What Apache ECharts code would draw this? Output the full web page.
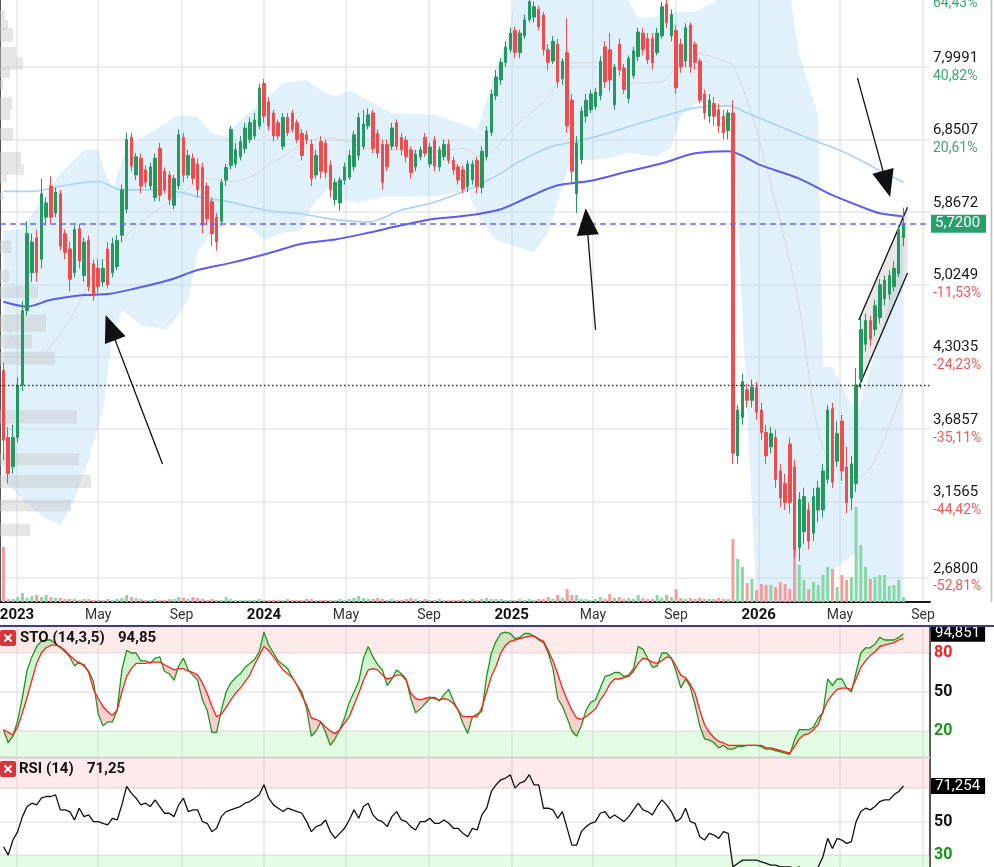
<!DOCTYPE html>
<html><head><meta charset="utf-8">
<script src="https://cdn.jsdelivr.net/npm/echarts@6/dist/echarts.min.js"></script>
<style>html,body{margin:0;padding:0;background:#fff}#c{width:994px;height:867px}</style>
</head><body><div id="c"></div>
<script>
// ---------- DATA ----------
// weekly candles starting Monday 2022-12-12 : [open, close, low, high]
const firstWeek = [2022, 12, 12];
const candles = [
[4.18,3.60,3.45,4.25],[3.62,3.35,3.28,3.70],[3.40,3.62,3.35,3.72],[3.62,4.05,3.58,4.12],[4.05,4.75,4.00,4.85],
[4.75,5.60,4.70,5.75],[5.15,5.50,5.05,5.60],[5.55,5.15,5.05,5.65],[5.30,6.10,5.20,6.30],[5.80,5.98,5.70,6.05],
[6.20,5.80,5.72,6.33],[5.85,6.12,5.80,6.18],[6.10,5.45,5.40,6.15],[5.60,5.38,5.30,5.65],[5.42,5.08,4.95,5.50],
[5.15,5.65,5.10,5.70],[5.66,5.28,5.20,5.72],[5.12,5.50,5.05,5.55],[5.52,5.00,4.95,5.58],[5.25,4.90,4.85,5.30],
[5.20,5.00,4.93,5.30],[5.05,5.20,5.00,5.30],[5.42,5.02,4.98,5.50],[5.15,5.48,5.10,5.55],[5.22,5.52,5.18,5.58],
[5.58,6.15,5.50,6.22],[5.90,6.85,5.85,6.95],[6.88,6.47,6.40,6.95],[6.35,6.60,6.28,6.65],[6.58,6.20,6.10,6.65],
[6.42,6.25,6.18,6.48],[6.20,6.46,6.15,6.52],[6.05,6.58,6.00,6.65],[6.72,6.08,6.00,6.80],[6.40,6.15,6.10,6.45],
[6.35,6.02,5.95,6.40],[5.95,6.30,5.90,6.35],[6.20,6.92,6.15,7.00],[6.88,6.35,6.25,6.95],[6.35,6.62,6.30,6.70],
[6.58,6.30,6.22,6.65],[6.50,6.15,6.05,6.58],[6.45,5.70,5.60,6.52],[6.20,5.78,5.70,6.25],[6.00,5.60,5.45,6.05],
[5.80,5.50,5.40,5.85],[5.75,6.25,5.70,6.30],[6.28,6.45,6.20,6.50],[6.48,7.00,6.42,7.05],[6.50,6.70,6.45,6.80],
[6.60,6.82,6.55,6.90],[6.72,7.02,6.65,7.10],[6.85,7.10,6.80,7.18],[6.90,7.14,6.85,7.25],[7.05,7.65,7.00,7.72],
[7.72,7.20,7.10,7.80],[7.42,7.05,6.98,7.50],[7.25,6.90,6.82,7.30],[7.10,6.90,6.85,7.15],[6.75,7.18,6.70,7.25],
[7.18,6.95,6.90,7.25],[7.25,7.00,6.95,7.30],[7.10,6.85,6.80,7.15],[6.94,6.62,6.55,7.00],[6.92,6.84,6.78,6.98],
[6.78,6.30,6.20,6.85],[6.35,6.62,6.30,6.70],[6.82,6.40,6.30,6.90],[6.80,6.38,6.30,6.85],[6.48,6.15,6.05,6.55],
[6.02,6.25,5.95,6.30],[5.98,6.28,5.88,6.32],[6.28,6.46,6.22,6.52],[6.32,6.62,6.28,6.70],[6.46,6.92,6.40,6.98],
[6.62,7.18,6.55,7.25],[6.75,7.08,6.70,7.30],[7.05,7.22,7.00,7.32],[7.25,6.72,6.65,7.30],[6.94,6.65,6.58,7.00],
[6.78,6.25,6.15,6.85],[6.78,6.46,6.40,6.85],[6.75,7.02,6.70,7.10],[7.10,6.75,6.70,7.15],[6.88,6.70,6.62,6.95],
[6.84,6.60,6.52,6.90],[6.70,6.38,6.30,6.75],[6.46,6.64,6.40,6.70],[6.60,6.70,6.55,6.75],[6.88,6.65,6.60,6.95],
[6.50,6.74,6.45,6.80],[6.84,6.47,6.40,6.90],[6.46,6.70,6.40,6.75],[6.60,6.78,6.55,6.85],[6.78,6.55,6.50,6.85],
[6.55,6.42,6.35,6.60],[6.46,6.28,6.22,6.50],[6.42,6.16,6.10,6.48],[6.19,6.50,6.12,6.55],[6.28,6.50,6.22,6.55],
[6.55,6.19,6.10,6.60],[6.18,6.68,6.10,6.75],[6.60,6.98,6.55,7.05],[6.95,7.55,6.90,7.62],[7.52,7.83,7.45,7.95],
[7.78,8.08,7.70,8.15],[8.08,8.35,8.00,8.45],[8.30,8.60,8.25,8.70],[8.65,8.25,8.15,8.72],[8.25,8.60,8.15,8.66],
[8.55,8.85,8.50,8.95],[8.85,9.20,8.80,9.40],[8.90,9.10,8.80,9.20],[9.05,8.72,8.65,9.12],[8.94,8.30,8.20,9.00],
[8.30,8.08,7.95,8.40],[8.10,8.45,8.05,8.55],[8.40,7.75,7.65,8.50],[7.80,8.10,7.70,8.15],[8.25,7.05,6.95,8.88],
[7.45,6.40,6.25,7.55],[6.10,6.80,5.85,6.90],[6.56,7.28,6.50,7.35],[7.20,7.45,7.10,7.55],[7.30,7.55,7.25,7.62],
[7.35,7.58,7.30,7.65],[7.52,8.10,7.45,8.18],[8.35,7.75,7.65,8.45],[8.30,7.78,7.60,8.60],[7.38,8.00,7.30,8.05],
[8.40,7.95,7.85,8.50],[7.98,7.62,7.55,8.05],[7.48,8.15,7.40,8.20],[7.85,8.28,7.80,8.35],[8.18,8.62,8.10,8.70],
[8.60,8.30,8.20,8.70],[8.50,8.12,8.05,8.60],[8.50,8.07,7.95,8.60],[8.25,8.60,8.20,8.70],[8.55,9.10,8.50,9.20],
[9.15,8.80,8.70,9.40],[8.55,8.95,8.45,9.05],[8.65,7.65,7.55,8.75],[8.40,8.00,7.90,8.50],[8.10,8.70,8.00,8.78],
[8.75,8.00,7.90,8.80],[8.40,8.08,7.95,8.45],[8.10,7.45,7.40,8.15],[7.55,7.25,7.15,7.62],[7.20,7.45,7.10,7.55],
[7.40,7.20,7.05,7.50],[7.30,7.05,6.95,7.40],[7.20,6.95,6.85,7.30],[6.98,7.25,6.85,7.30],[7.25,3.50,3.42,7.45],
[3.48,3.84,3.42,3.88],[3.78,4.08,3.72,4.15],[4.01,3.92,3.86,4.06],[3.92,4.03,3.86,4.10],[4.03,3.82,3.76,4.08],
[3.84,3.66,3.60,3.90],[3.66,3.48,3.42,3.72],[3.55,3.65,3.50,3.70],[3.62,3.31,3.25,3.68],[3.37,3.18,3.12,3.42],
[3.28,3.15,3.10,3.35],[3.57,3.15,3.08,3.62],[3.40,2.85,2.80,3.45],[2.86,3.17,2.78,3.22],[2.96,3.19,2.88,3.25],
[3.10,2.90,2.85,3.15],[2.95,3.19,2.90,3.25],[3.10,3.25,3.02,3.30],[3.10,3.37,3.05,3.42],[3.31,3.84,3.28,3.88],
[3.85,3.29,3.25,3.90],[3.44,3.65,3.40,3.75],[3.75,3.37,3.30,3.80],[3.40,3.15,3.08,3.55],[3.18,3.42,3.10,3.48],
[3.28,4.05,3.22,4.20],[4.10,4.56,4.02,4.68],[4.42,4.65,4.35,4.72],[4.65,4.47,4.40,4.70],[4.56,4.80,4.50,4.86],
[4.68,5.02,4.62,5.08],[4.87,5.07,4.80,5.12],[4.92,5.12,4.86,5.18],[5.00,5.20,4.95,5.28],[5.14,5.65,5.10,5.70],
[5.55,5.72,5.45,5.92]
];
const volumes = [
55,3,3,5,9,4,6,7,5,7, 5,4,4,3,3,3,2,3,3,2, 2,2,3,2,3,4,7,5,4,3, 2,2,3,2,2,3,3,5,4,3,
5,4,3,2,3,2,2,5,3,2, 2,2,2,2,3,2,2,2,2,2, 3,2,2,2,3,3,2,2,2,2, 2,3,2,3,4,6,4,3,3,4,
3,2,3,2,2,3,4,3,2,3, 2,2,3,2,2,2,2,3,2,3, 2,3,4,3,3,3,2,2,2,3, 2,3,2,3,3,5,3,7,4,13,
7,7,3,3,2,3,5,3,8,4, 5,3,4,3,7,4,3,3,7,4, 7,5,13,4,3,4,3,4,3,3, 3,4,3,3,
63,43,35,19,23,12,18,17,17,15, 20,18,13,68,37,22,13,20,17,27, 35,33,15,27,22,25,95,57,35,23, 25,27,27,16,17,22,5
];
// Bollinger bands / moving averages : [weekIndex, value]
const bbUpper = [[0,5.63],[4,5.66],[8,6.02],[12,6.37],[17,6.70],[20,6.70],[21,6.47],[23,6.15],[26,6.74],[33,7.04],[37,7.22],[41,7.19],[44,6.94],[47,6.89],[50,7.14],[55,7.45],[59,7.73],[64,7.78],[67,7.61],[70,7.50],[73,7.61],[77,7.45],[82,7.25],[91,7.22],[96,7.10],[100,6.99],[102,7.45],[104,8.00],[105,8.20],[107,8.70],[108,9.40],[112,10.0],[120,10.2],[126,9.9],[131,9.4],[134,8.88],[138,8.91],[142,9.00],[146,9.00],[150,9.19],[153,9.5],[154,10.3],[160,10.5],[165,10.0],[168,8.21],[172,7.22],[173,4.21],[175,4.21],[180,3.81],[183,4.18],[186,4.66],[188,5.07],[190,5.71]];
const bbLower = [[0,3.31],[4,3.17],[8,3.06],[12,3.00],[15,3.17],[18,3.45],[21,3.84],[23,4.50],[25,4.76],[29,4.60],[34,4.56],[36,4.64],[39,4.86],[41,5.38],[44,5.61],[48,5.74],[52,5.67],[55,5.52],[59,5.61],[63,5.64],[65,5.93],[70,6.28],[72,6.02],[75,5.98],[80,6.06],[91,6.06],[98,6.15],[100,5.83],[104,5.52],[112,5.38],[115,5.61],[118,6.19],[120,6.60],[124,6.55],[129,6.60],[132,6.66],[138,6.60],[141,6.74],[143,7.19],[146,7.40],[150,7.45],[153,7.34],[154,7.05],[155,5.77],[156,4.70],[157,3.84],[158,3.13],[159,2.56],[160,2.2],[173,2.2],[174,2.70],[180,2.83],[181,2.2],[190,2.0]];
const bbMiddle = [[0,4.66],[2,4.48],[5,4.30],[8,4.31],[11,4.46],[14,4.66],[17,4.93],[20,5.22],[24,5.44],[27,5.64],[31,5.83],[36,6.03],[39,6.16],[43,6.30],[48,6.26],[53,6.35],[56,6.49],[60,6.64],[63,6.79],[68,6.88],[73,6.81],[77,6.72],[84,6.70],[91,6.67],[97,6.72],[101,6.60],[108,7.04],[115,7.50],[120,8.07],[126,8.07],[132,7.73],[139,7.75],[142,8.00],[146,8.24],[153,8.08],[154,8.03],[158,7.23],[164,5.74],[168,4.80],[173,3.54],[180,3.31],[184,3.45],[190,4.03]];
const maLong = [[0,6.13],[6,6.13],[13,6.21],[20,6.26],[25,6.15],[32,6.15],[37,6.12],[41,6.06],[48,5.99],[56,5.88],[63,5.84],[70,5.77],[77,5.74],[84,5.89],[91,5.99],[98,6.15],[105,6.37],[108,6.50],[115,6.73],[122,6.84],[126,6.91],[132,7.04],[139,7.19],[146,7.33],[153,7.36],[157,7.25],[164,7.04],[171,6.84],[178,6.65],[185,6.41],[190,6.25]];
const maMid = [[0,4.84],[5,4.79],[10,4.86],[17,4.91],[22,4.92],[27,4.97],[35,5.07],[41,5.18],[48,5.26],[56,5.37],[63,5.48],[70,5.53],[77,5.61],[84,5.70],[91,5.78],[98,5.82],[105,5.90],[111,6.06],[117,6.21],[124,6.27],[132,6.40],[139,6.51],[146,6.65],[153,6.68],[160,6.48],[168,6.30],[175,6.08],[182,5.91],[185,5.85],[190,5.81]];
// volume at price : [low, high, volume]
const volProfile = [[8.845,9.036,5],[8.658,8.845,8],[8.44,8.70,13],[8.17,8.35,16],[7.95,8.17,23],[7.81,7.98,10],[7.62,7.78,3],[7.30,7.50,12],[7.14,7.30,10],[6.84,7.02,13],[6.49,6.67,21],[6.35,6.49,24],[6.25,6.35,7],[6.02,6.11,3],[5.37,5.52,11],[5.04,5.18,9],[4.88,5.00,38],[4.54,4.71,46],[4.38,4.51,32],[4.23,4.35,55],[3.73,3.84,77],[3.41,3.50,79],[3.25,3.34,91],[3.09,3.17,71],[2.93,3.01,30]];
// stochastic (14,3,5) %K / %D and RSI(14), weekly
const stoK = [21,11,16,28,46,67,77,85,89,90, 90,87,84,81,77,70,73,70,66,58, 33,24,27,27,36,67,82,80,80,74, 74,72,76,77,66,64,59,70,76,67,
63,59,44,36,19,19,36,50,57,61, 64,69,72,75,81,96,86,80,74,71, 68,61,55,50,37,16,20,27,19,9, 14,21,30,42,50,58,76,85,77,71,
67,55,60,67,64,60,45,34,37,41, 45,46,43,48,52,43,36,26,18,31, 33,35,62,80,89,95,96,95,91,92, 95,95,93,90,88,80,68,45,39,30,
20,16,24,36,42,44,53,62,63,65, 65,62,63,68,85,83,76,69,70,80, 80,76,66,53,60,54,40,24,14,13, 11,7,9,6,6,8,8,9,9,9,
8,6,6,5,4,3,2,13,21,21, 21,23,30,34,60,55,60,60,53,50, 65,80,84,84,87,92,90,90,90,92,94.851];
const stoD = [21,19,17,23,34,46,59,72,80,84, 86,86,85,82,78,75,72,71,65,52, 45,39,35,32,36,50,62,68,72,72, 72,73,73,73,71,69,67,68,68,66,
65,63,57,49,39,31,33,38,44,49, 53,58,63,71,78,85,82,77,72,67, 64,61,55,47,40,30,29,27,23,20, 18,21,26,31,40,49,59,67,68,67,
63,60,61,63,63,59,49,45,44,45, 46,45,44,45,44,41,36,31,31,31, 31,38,50,62,70,80,86,89,90,91, 92,93,93,91,89,82,74,64,53,44,
36,30,29,31,34,37,44,49,56,60, 60,61,62,66,72,76,75,73,72,74, 77,76,70,63,61,56,49,36,25,19, 15,12,11,9,9,9,9,9,9,9,
9,7,7,6,5,4,3,8,14,17, 18,21,25,35,43,48,52,53,53,52, 60,69,74,78,81,85,86,87,88,90,91.3];
const rsi = [35,30,39,44,53,59,61,60,64,65, 65,66,57,57,56,51,58,53,54,50, 50,49,48,52,51,60,71,67,64,60, 61,59,63,59,55,55,53,60,64,56,
57,57,50,49,44,46,53,56,57,58, 59,61,62,64,66,72,64,60,58,56, 58,57,56,55,50,44,47,48,51,44, 40,43,46,51,57,52,59,61,54,51,
50,47,53,56,51,50,47,45,50,50, 52,49,49,51,49,46,46,43,41,46, 45,54,58,68,72,75,76,78,70,73, 74,78,72,72,58,58,57,52,56,46,
36,36,44,47,49,50,55,56,52,54, 52,50,53,57,61,57,56,54,59,63, 60,56,50,52,58,50,49,41,39,43, 42,40,44,43,23,25,27,27,27,27,
26,25,24,24,23,23,23,22,23,19, 19,20,23,29,40,34,40,39,37,38, 50,56,58,57,59,62,63,63,66,68,71.254];
// axis ticks / labels (the percentage of 5,8672 is hidden behind the price tag in the original)
const timeTicks = ['2023-01-01','2023-05-01','2023-09-01','2024-01-01','2024-05-01','2024-09-01','2025-01-01','2025-05-01','2025-09-01','2026-01-01','2026-05-01','2026-09-01'];
const monthNames = ['Jan','Feb','Mar','Apr','May','Jun','Jul','Aug','Sep','Oct','Nov','Dec'];
const priceTicks = [2.68, 3.1565, 3.6857, 4.3035, 5.0249, 5.8672, 6.8507, 7.9991, 9.34];
const pctLabels = ['-52,81%','-44,42%','-35,11%','-24,23%','-11,53%','','20,61%','40,82%','64,43%'];
const stoTicks = [20, 50, 80];
const rsiTicks = [30, 50, 70];
const supportLevel = 4.05;
// drawn annotations: [tailDate, tailPrice, headDate, headPrice]
const arrows = [['2023-08-04',3.42,'2023-05-19',4.58],['2025-05-05',4.556,'2025-04-22',5.744],['2026-05-27',7.815,'2026-07-09',6.228]];
// trend channel: [date, upper, lower]
const channel = [['2026-05-29',4.655,4.033],['2026-08-09',5.925,5.147]];
const priceRange = [2.5458, 9.3516];
const timeRange = ['2022-12-06 21','2026-09-11 05'];

// ---------- BUILD ----------
function toTime(s){ const [d,h] = s.split(' '); const [y,m,dd] = d.split('-').map(Number); return new Date(y, m-1, dd, h?Number(h):0).getTime(); }
const dates = candles.map((_, i) => new Date(firstWeek[0], firstWeek[1]-1, firstWeek[2] + 7*i).getTime());
const tickVals = timeTicks.map(toTime);
const xMin = toTime(timeRange[0]), xMax = toTime(timeRange[1]);
const comma = (v, d) => v.toFixed(d).replace('.', ',');
const sparse = arr => arr.map(p => [dates[p[0]], p[1]]);
const FONT = 'Roboto, Arial, sans-serif';
const GREEN = '#23995f', RED = '#f34a4c';
const CLEAR = 'rgba(0,0,0,0)';

function fmtX(v){ const d = new Date(v); return d.getMonth() === 0 ? '{y|' + d.getFullYear() + '}' : '{m|' + monthNames[d.getMonth()] + '}'; }
function fmtPrice(v){
  let k = 0, best = 1e9;
  priceTicks.forEach((t, i) => { const d = Math.abs(t - v); if (d < best) { best = d; k = i; } });
  const p = pctLabels[k];
  return '{v|' + comma(priceTicks[k], 4) + '}\n{' + (p[0] === '-' ? 'pd' : 'pu') + '|' + (p || ' ') + '}';
}
const splitStyle = {show:true, lineStyle:{color:'#e7e7e7', width:1.5}};
function mkX(gi, labels){
  return {type:'value', gridIndex:gi, min:xMin, max:xMax, show: gi !== 1, scale:true,
    axisLine:{show: gi === 0, onZero:false, lineStyle:{color:'#1a1a1a', width:2}},
    axisTick:{show:false, customValues: tickVals},
    axisLabel:{show: labels, customValues: tickVals, margin:6, formatter: fmtX, hideOverlap:false,
      rich:{y:{fontWeight:'bold', fontSize:15, color:'#111', fontFamily:FONT}, m:{fontSize:14, color:'#333', fontFamily:FONT}}},
    splitLine: splitStyle};
}
const candleData = candles.map((c, i) => [dates[i], c[0], c[1], c[2], c[3]]);
const volData = volumes.map((v, i) => ({value:[dates[i], v], itemStyle:{color: candles[i][1] >= candles[i][0] ? '#84d9a6' : '#f79b9b'}}));
const bandData = bbUpper.map(p => [dates[p[0]], p[1], 0]).concat(bbLower.map(p => [dates[p[0]], p[1], 1]));
const lastClose = candles[candles.length-1][1];
const lastK = stoK[stoK.length-1], lastRsi = rsi[rsi.length-1];
const gridBase = {left:0, right:64, outerBoundsMode:'none', containLabel:false};

const option = {
  animation:false,
  textStyle:{fontFamily:FONT},
  grid:[
    Object.assign({top:-6, height:608}, gridBase),
    Object.assign({top:402, height:200}, gridBase),
    Object.assign({top:627, height:130}, gridBase),
    Object.assign({top:758, height:110.5}, gridBase)
  ],
  xAxis:[mkX(0,true), mkX(1,false), mkX(2,false), mkX(3,false), {type:'value', gridIndex:0, min:0, max:930, show:false}],
  yAxis:[
    {type:'log', gridIndex:0, position:'right', min:priceRange[0], max:priceRange[1], logBase:10,
      axisLine:{show:true, lineStyle:{color:'#1a1a1a', width:1.5}},
      axisTick:{show:false, customValues: priceTicks},
      axisLabel:{customValues: priceTicks, margin:3, formatter: fmtPrice, hideOverlap:false,
        rich:{v:{fontSize:15, color:'#1a1a1a', lineHeight:18, fontFamily:FONT},
              pu:{fontSize:14, color:'#3aaa6e', lineHeight:18, fontFamily:FONT},
              pd:{fontSize:14, color:'#f25757', lineHeight:18, fontFamily:FONT}}},
      splitLine: splitStyle},
    {type:'value', gridIndex:1, min:0, max:200, show:false},
    {type:'value', gridIndex:2, min:0, max:100, position:'right',
      axisLine:{show:true, lineStyle:{color:'#1a1a1a', width:1.5}},
      axisTick:{show:false, customValues: stoTicks},
      axisLabel:{customValues: stoTicks, margin:4, formatter: v => v === 80 ? '{r|80}' : v === 20 ? '{g|20}' : '{b|' + v + '}',
        rich:{r:{color:'#ff1a1a', fontWeight:'bold', fontSize:16}, g:{color:'#119911', fontWeight:'bold', fontSize:16}, b:{color:'#111', fontWeight:'bold', fontSize:16}}},
      splitLine: splitStyle},
    {type:'value', gridIndex:3, min:22, max:88, position:'right',
      axisLine:{show:true, lineStyle:{color:'#1a1a1a', width:1.5}},
      axisTick:{show:false, customValues: rsiTicks},
      axisLabel:{customValues: rsiTicks, margin:4, formatter: v => v === 30 ? '{g|30}' : v === 50 ? '{b|50}' : '',
        rich:{g:{color:'#119911', fontWeight:'bold', fontSize:16}, b:{color:'#111', fontWeight:'bold', fontSize:16}}},
      splitLine: splitStyle}
  ],
  series:[
    {type:'custom', name:'BB', xAxisIndex:0, yAxisIndex:0, z:1, clip:true, silent:true,
      data: bandData, encode:{x:0, y:1},
      renderItem:function(params, api){
        if (params.dataIndexInside !== 0) return null;
        const n = params.dataInsideLength, top = [], bot = [];
        for (let j = 0; j < n; j++) {
          const pt = api.coord([api.value(0, j), api.value(1, j)]);
          if (api.value(2, j) === 0) top.push(pt); else bot.push(pt);
        }
        return {type:'polygon', shape:{points: top.concat(bot.reverse())}, style:{fill:'rgba(160,210,245,0.32)'}};
      }},
    {type:'custom', name:'VolProfile', xAxisIndex:4, yAxisIndex:0, z:1, clip:true, silent:true,
      data: volProfile.map(r => [r[2], r[0], r[1]]), encode:{x:0, y:[1,2]},
      renderItem:function(params, api){
        const a = api.coord([0, api.value(2)]), b = api.coord([api.value(0), api.value(1)]);
        return {type:'rect', shape:{x:a[0], y:a[1], width:b[0]-a[0], height:b[1]-a[1]}, style:{fill:'rgba(200,200,200,0.45)'}};
      }},
    {type:'line', name:'BB mid', xAxisIndex:0, yAxisIndex:0, z:2, data: sparse(bbMiddle), showSymbol:false, smooth:0.3, silent:true,
      lineStyle:{color:'#d6d6d6', width:1}},
    {type:'line', name:'MA long', xAxisIndex:0, yAxisIndex:0, z:2, data: sparse(maLong), showSymbol:false, smooth:0.3, silent:true,
      lineStyle:{color:'#a6d3f6', width:1.6}},
    {type:'line', name:'MA mid', xAxisIndex:0, yAxisIndex:0, z:2, data: sparse(maMid), showSymbol:false, smooth:0.3, silent:true,
      lineStyle:{color:'#5c5cf0', width:2}},
    {type:'bar', name:'Volume', xAxisIndex:1, yAxisIndex:1, z:2, data: volData, barWidth:3, silent:true},
    {type:'custom', name:'Channel', xAxisIndex:0, yAxisIndex:0, z:2, clip:true, silent:true,
      data: channel.map(r => [toTime(r[0]), r[1], r[2]]), encode:{x:0, y:[1,2]},
      renderItem:function(params, api){
        if (params.dataIndexInside !== 0) return null;
        const u0 = api.coord([api.value(0,0), api.value(1,0)]), u1 = api.coord([api.value(0,1), api.value(1,1)]);
        const l0 = api.coord([api.value(0,0), api.value(2,0)]), l1 = api.coord([api.value(0,1), api.value(2,1)]);
        return {type:'group', children:[
          {type:'polygon', shape:{points:[u0,u1,l1,l0]}, style:{fill:'rgba(175,175,175,0.30)'}},
          {type:'line', shape:{x1:u0[0], y1:u0[1], x2:u1[0], y2:u1[1]}, style:{stroke:'#111', lineWidth:1.3}},
          {type:'line', shape:{x1:l0[0], y1:l0[1], x2:l1[0], y2:l1[1]}, style:{stroke:'#111', lineWidth:1.3}}
        ]};
      }},
    {type:'candlestick', name:'Price', xAxisIndex:0, yAxisIndex:0, z:3, data: candleData, encode:{x:0, y:[1,2,3,4]},
      barWidth:3, silent:true,
      itemStyle:{color:GREEN, color0:RED, borderColor:GREEN, borderColor0:RED, borderWidth:1},
      markLine:{silent:true, symbol:['none','none'], animation:false, label:{show:false},
        lineStyle:{type:'solid', color:'#111', width:1.3},
        data:[
          {yAxis:lastClose, lineStyle:{color:'#6a6af2', type:[6,4], width:1.6},
            label:{show:true, position:'end', distance:1, formatter: comma(lastClose,4), backgroundColor:'#27a06b', color:'#fff',
              fontSize:15, padding:[2,6,1,4], fontFamily:FONT}},
          {yAxis:supportLevel, lineStyle:{color:'#333', type:[1.5,2.5], width:1.3}}
        ].concat(arrows.map(a => [
          {coord:[toTime(a[0]), a[1]], symbol:'none'},
          {coord:[toTime(a[2]), a[3]], symbol:'triangle', symbolSize:[22,27]}
        ]))}},
    // STO
    {type:'custom', name:'STO fill', xAxisIndex:2, yAxisIndex:2, z:1, clip:true, silent:true,
      data: stoK.map((k, i) => [dates[i], k, stoD[i]]), encode:{x:0, y:[1,2]},
      renderItem:function(params, api){
        const j = params.dataIndexInside, n = params.dataInsideLength;
        if (j >= n - 1) return null;
        const t0 = api.value(0,j), k0 = api.value(1,j), d0 = api.value(2,j);
        const t1 = api.value(0,j+1), k1 = api.value(1,j+1), d1 = api.value(2,j+1);
        const K0 = api.coord([t0,k0]), D0 = api.coord([t0,d0]), K1 = api.coord([t1,k1]), D1 = api.coord([t1,d1]);
        const s0 = k0 - d0, s1 = k1 - d1;
        const col = s => s >= 0 ? 'rgba(60,215,60,0.25)' : 'rgba(245,80,80,0.28)';
        if (s0 * s1 >= 0) return {type:'polygon', shape:{points:[K0,K1,D1,D0]}, style:{fill: col(s0 + s1)}};
        const f = s0 / (s0 - s1);
        const X = [K0[0] + (K1[0]-K0[0])*f, K0[1] + (K1[1]-K0[1])*f];
        return {type:'group', children:[
          {type:'polygon', shape:{points:[K0,X,D0]}, style:{fill: col(s0)}},
          {type:'polygon', shape:{points:[X,K1,D1]}, style:{fill: col(s1)}}]};
      }},
    {type:'line', name:'%K', xAxisIndex:2, yAxisIndex:2, z:3, data: stoK.map((v,i)=>[dates[i],v]), showSymbol:false, silent:true,
      lineStyle:{color:'#1e961e', width:1.3},
      markArea:{silent:true, data:[
        [{yAxis:80, itemStyle:{color:'rgba(250,150,150,0.2)'}},{yAxis:100}],
        [{yAxis:0, itemStyle:{color:'rgba(130,240,130,0.22)'}},{yAxis:20}]]},
      markLine:{silent:true, symbol:['none','none'], data:[{yAxis:lastK, lineStyle:{color:CLEAR, width:1},
        label:{show:true, position:'end', distance:1, formatter: comma(lastK,3), backgroundColor:'#000', color:'#fff', fontSize:15, padding:[1,5,0,4], opacity:1}}]}},
    {type:'line', name:'%D', xAxisIndex:2, yAxisIndex:2, z:3, data: stoD.map((v,i)=>[dates[i],v]), showSymbol:false, silent:true,
      lineStyle:{color:'#ff1e1e', width:1.3}},
    // RSI
    {type:'line', name:'RSI', xAxisIndex:3, yAxisIndex:3, z:3, data: rsi.map((v,i)=>[dates[i],v]), showSymbol:false, silent:true,
      lineStyle:{color:'#111', width:1.3},
      markArea:{silent:true, data:[
        [{yAxis:70, itemStyle:{color:'rgba(250,150,150,0.2)'}},{yAxis:88}],
        [{yAxis:22, itemStyle:{color:'rgba(130,240,130,0.22)'}},{yAxis:30}]]},
      markLine:{silent:true, symbol:['none','none'], data:[{yAxis:lastRsi, lineStyle:{color:CLEAR, width:1},
        label:{show:true, position:'end', distance:1, formatter: comma(lastRsi,3), backgroundColor:'#000', color:'#fff', fontSize:15, padding:[1,5,0,4], opacity:1}}]}}
  ],
  graphic:[
    {type:'line', shape:{x1:0, y1:626, x2:994, y2:626}, style:{stroke:'#3d3d86', lineWidth:2}, z:100},
    {type:'line', shape:{x1:0, y1:757.5, x2:930, y2:757.5}, style:{stroke:'#d0d0d0', lineWidth:2}, z:100},
    {type:'line', shape:{x1:991.5, y1:0, x2:991.5, y2:602}, style:{stroke:'#bdbdbd', lineWidth:1.5}, z:100},
    {type:'rect', shape:{x:0, y:630, width:16, height:16, r:2}, style:{fill:'#d8343c'}, z:100},
    {type:'line', shape:{x1:4.5, y1:634.5, x2:11.5, y2:641.5}, style:{stroke:'#fff', lineWidth:2}, z:101},
    {type:'line', shape:{x1:11.5, y1:634.5, x2:4.5, y2:641.5}, style:{stroke:'#fff', lineWidth:2}, z:101},
    {type:'text', x:20, y:638, style:{text:'STO (14,3,5)', font:'bold 15px ' + FONT, fill:'#111', verticalAlign:'middle'}, z:100},
    {type:'text', x:118, y:638, style:{text: comma(lastK,2), font:'bold 15px ' + FONT, fill:'#111', verticalAlign:'middle'}, z:100},
    {type:'rect', shape:{x:0, y:761, width:16, height:16, r:2}, style:{fill:'#d8343c'}, z:100},
    {type:'line', shape:{x1:4.5, y1:765.5, x2:11.5, y2:772.5}, style:{stroke:'#fff', lineWidth:2}, z:101},
    {type:'line', shape:{x1:11.5, y1:765.5, x2:4.5, y2:772.5}, style:{stroke:'#fff', lineWidth:2}, z:101},
    {type:'text', x:19, y:769, style:{text:'RSI (14)', font:'bold 15px ' + FONT, fill:'#111', verticalAlign:'middle'}, z:100},
    {type:'text', x:87, y:769, style:{text: comma(lastRsi,2), font:'bold 15px ' + FONT, fill:'#111', verticalAlign:'middle'}, z:100}
  ]
};
const chart = echarts.init(document.getElementById('c'), null, {renderer:'canvas'});
chart.setOption(option);
</script></body></html>
